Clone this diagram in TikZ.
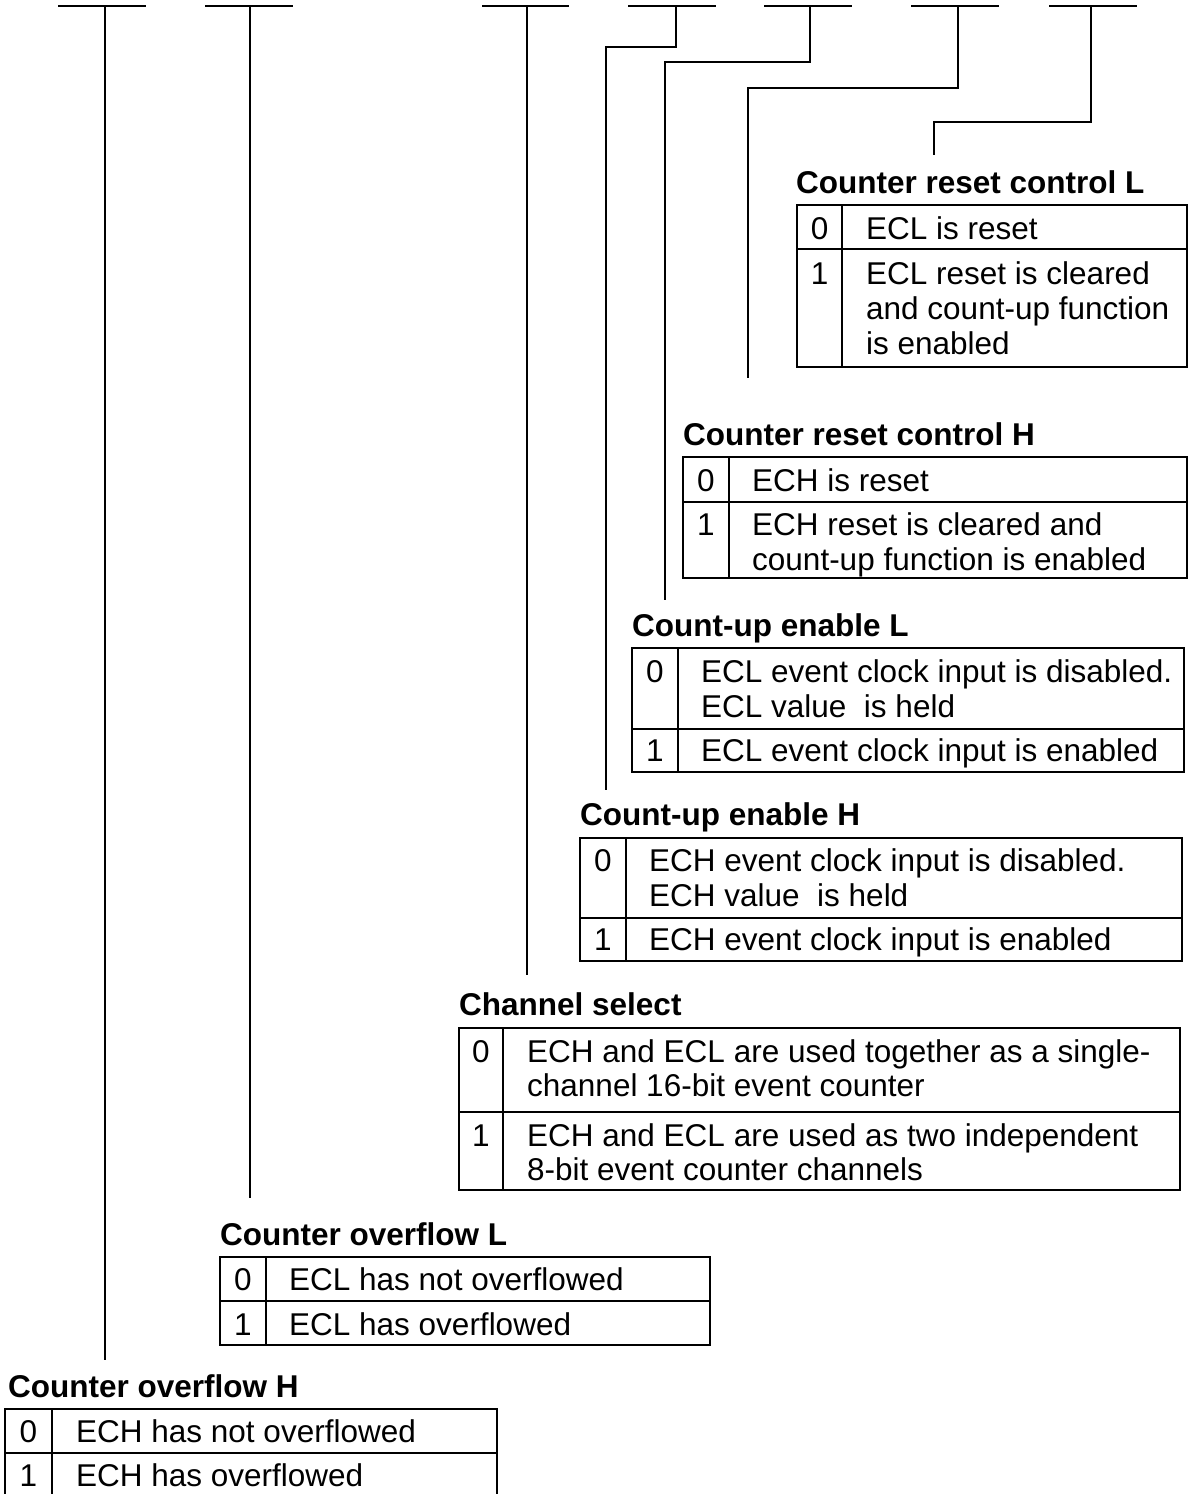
\documentclass[tikz,border=0pt]{standalone}
\usepackage{fontspec}
\setmainfont{Liberation Sans}
\begin{document}
\begin{tikzpicture}[x=1pt,y=-1pt,
  title/.style={anchor=base west, inner sep=0pt, font=\fontsize{31.5}{35}\selectfont\bfseries},
  cell/.style={anchor=base west, inner sep=0pt, font=\fontsize{31.5}{35}\selectfont},
  num/.style={anchor=base, inner sep=0pt, font=\fontsize{31.5}{35}\selectfont},
  bar/.style={line width=2pt},
  wire/.style={line width=1.2pt},
  tbl/.style={line width=1.2pt}]
\useasboundingbox (0,0) rectangle (1192,1494);

% ---- bit field bars ----
\draw[bar] (58,6) -- (146,6);
\draw[bar] (205,6) -- (293,6);
\draw[bar] (482,6) -- (569,6);
\draw[bar] (628,6) -- (716,6);
\draw[bar] (764,6) -- (852,6);
\draw[bar] (911,6) -- (999,6);
\draw[bar] (1049,6) -- (1137,6);

% ---- connector coordinates ----
\coordinate (s1) at (105,6);   \coordinate (e1) at (105,1360);
\coordinate (s2) at (250,6);   \coordinate (e2) at (250,1198);
\coordinate (s3) at (527,6);   \coordinate (e3) at (527,975);
\coordinate (s4) at (676,6);   \coordinate (k4) at (676,47);  \coordinate (e4) at (606,790);
\coordinate (s5) at (810,6);   \coordinate (k5) at (810,62);  \coordinate (e5) at (665,600);
\coordinate (s6) at (958,6);   \coordinate (k6) at (958,88);  \coordinate (e6) at (748,378);
\coordinate (s7) at (1091,6);  \coordinate (k7) at (1091,122); \coordinate (e7) at (934,155);

\draw[wire] (s1) -- (e1);
\draw[wire] (s2) -- (e2);
\draw[wire] (s3) -- (e3);
\draw[wire] (s4) -- (k4) -| (e4);
\draw[wire] (s5) -- (k5) -| (e5);
\draw[wire] (s6) -- (k6) -| (e6);
\draw[wire] (s7) -- (k7) -| (e7);

% ---- Counter reset control L ----
\node[title] (t7) at (796,193) {Counter reset control L};
\draw[tbl] (797,205) rectangle (1187,367);
\draw[tbl] (797,249) -- (1187,249);
\draw[tbl] (842,205) -- (842,367);
\node[num] (t7n0) at (819.5,239) {0};
\node[cell] (t7a) at (866,239) {ECL is reset};
\node[num] (t7n1) at (819.5,284) {1};
\node[cell] (t7b) at (866,284) {ECL reset is cleared};
\node[cell] (t7c) at (866,319) {and count-up function};
\node[cell] (t7d) at (866,354) {is enabled};

% ---- Counter reset control H ----
\node[title] (t6) at (683,445) {Counter reset control H};
\draw[tbl] (683,457) rectangle (1187,578);
\draw[tbl] (683,502) -- (1187,502);
\draw[tbl] (729,457) -- (729,578);
\node[num] (t6n0) at (706,491) {0};
\node[cell] (t6a) at (752,491) {ECH is reset};
\node[num] (t6n1) at (706,535) {1};
\node[cell] (t6b) at (752,535) {ECH reset is cleared and};
\node[cell] (t6c) at (752,570) {count-up function is enabled};

% ---- Count-up enable L ----
\node[title] (t5) at (632,636) {Count-up enable L};
\draw[tbl] (632,648) rectangle (1184,772);
\draw[tbl] (632,729) -- (1184,729);
\draw[tbl] (678,648) -- (678,772);
\node[num] (t5n0) at (655,682) {0};
\node[cell] (t5a) at (701,682) {ECL event clock input is disabled.};
\node[cell] (t5b) at (701,717) {ECL value\ \ is held};
\node[num] (t5n1) at (655,761) {1};
\node[cell] (t5c) at (701,761) {ECL event clock input is enabled};

% ---- Count-up enable H ----
\node[title] (t4) at (580,825) {Count-up enable H};
\draw[tbl] (580,838) rectangle (1182,961);
\draw[tbl] (580,918) -- (1182,918);
\draw[tbl] (626,838) -- (626,961);
\node[num] (t4n0) at (603,871) {0};
\node[cell] (t4a) at (649,871) {ECH event clock input is disabled.};
\node[cell] (t4b) at (649,906) {ECH value\ \ is held};
\node[num] (t4n1) at (603,950) {1};
\node[cell] (t4c) at (649,950) {ECH event clock input is enabled};

% ---- Channel select ----
\node[title] (t3) at (459,1015) {Channel select};
\draw[tbl] (459,1028) rectangle (1180,1190);
\draw[tbl] (459,1112) -- (1180,1112);
\draw[tbl] (503,1028) -- (503,1190);
\node[num] (t3n0) at (481,1062) {0};
\node[cell] (t3a) at (527,1062) {ECH and ECL are used together as a single-};
\node[cell] (t3b) at (527,1096) {channel 16-bit event counter};
\node[num] (t3n1) at (481,1146) {1};
\node[cell] (t3c) at (527,1146) {ECH and ECL are used as two independent};
\node[cell] (t3d) at (527,1180) {8-bit event counter channels};

% ---- Counter overflow L ----
\node[title] (t2) at (220,1245) {Counter overflow L};
\draw[tbl] (220,1257) rectangle (710,1345);
\draw[tbl] (220,1301) -- (710,1301);
\draw[tbl] (266,1257) -- (266,1345);
\node[num] (t2n0) at (243,1290) {0};
\node[cell] (t2a) at (289,1290) {ECL has not overflowed};
\node[num] (t2n1) at (243,1335) {1};
\node[cell] (t2b) at (289,1335) {ECL has overflowed};

% ---- Counter overflow H ----
\node[title] (t1) at (8,1397) {Counter overflow H};
\draw[tbl] (5,1494) -- (5,1409) -- (497,1409) -- (497,1494);
\draw[tbl] (5,1453) -- (497,1453);
\draw[tbl] (52,1409) -- (52,1494);
\node[num] (t1n0) at (28.5,1442) {0};
\node[cell] (t1a) at (76,1442) {ECH has not overflowed};
\node[num] (t1n1) at (28.5,1486) {1};
\node[cell] (t1b) at (76,1486) {ECH has overflowed};
\end{tikzpicture}
\end{document}
